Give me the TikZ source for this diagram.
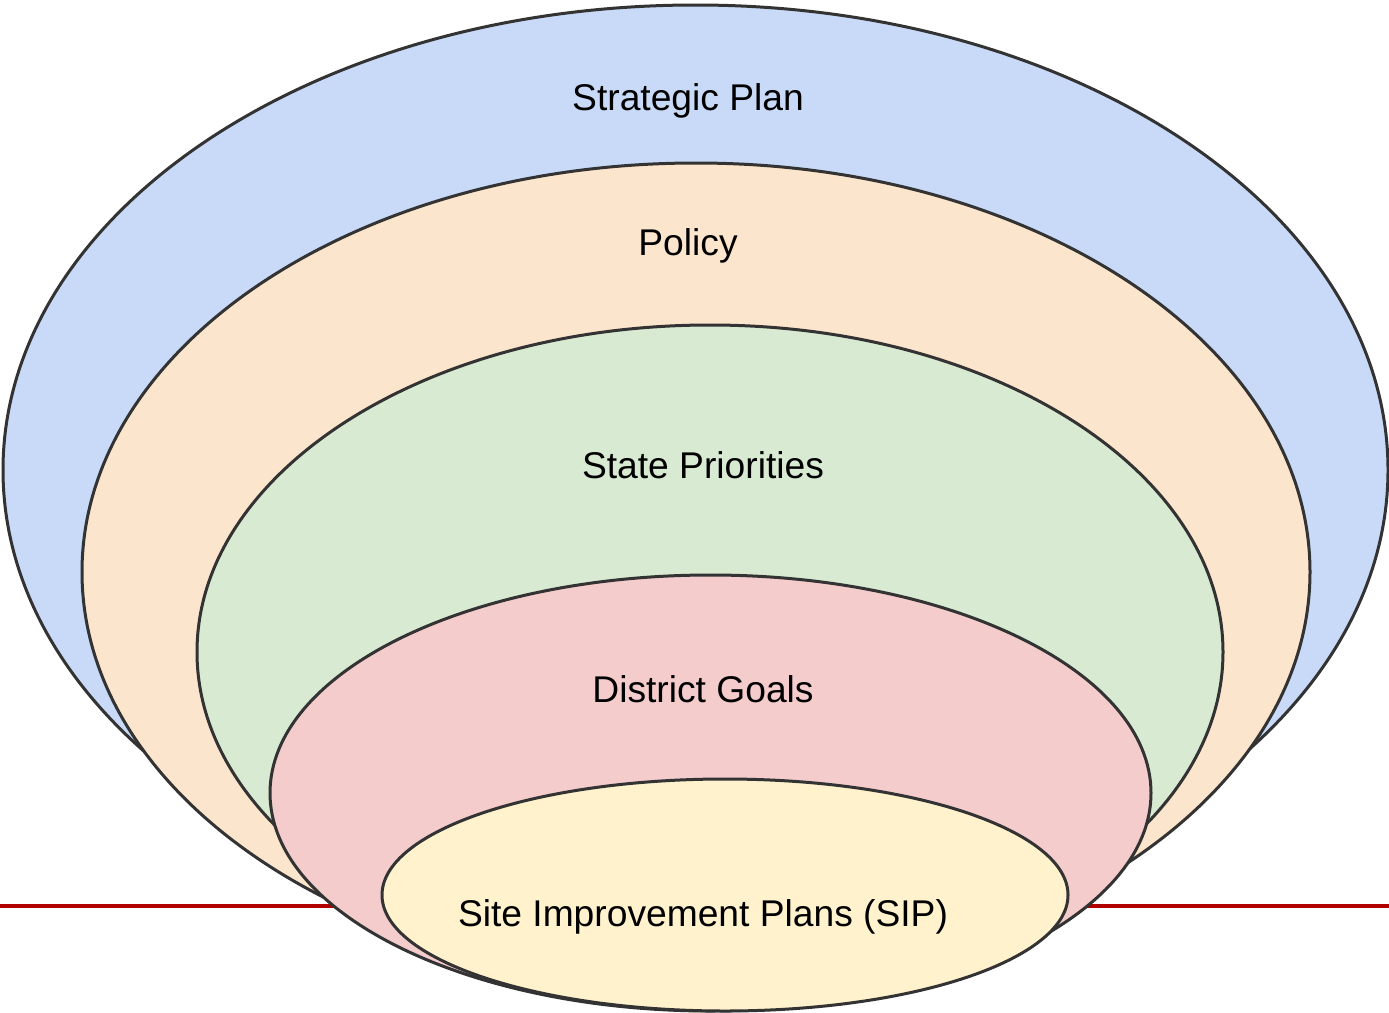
\documentclass[tikz,border=0pt]{standalone}
\usepackage{fontspec}
\setmainfont{Liberation Sans}
\definecolor{cblue}{HTML}{C9DAF8}
\definecolor{cpeach}{HTML}{FCE5CD}
\definecolor{cgreen}{HTML}{D9EAD3}
\definecolor{cpink}{HTML}{F4CCCC}
\definecolor{cyellow}{HTML}{FFF2CC}
\definecolor{cstroke}{HTML}{333333}
\definecolor{cred}{HTML}{B00000}
\begin{document}
\begin{tikzpicture}[x=1pt,y=-1pt,
  layer/.style={draw=cstroke,line width=3pt},
  lbl/.style={anchor=base,inner sep=0pt,font=\fontsize{37.2}{44}\selectfont,text=black}]
\useasboundingbox (0,0) rectangle (1389,1012);
\coordinate (la) at (0,906);
\coordinate (lb) at (1389,906);
\draw[cred,line width=4pt] (la) -- (lb);
\draw[layer,fill=cblue]   (695.5,470) ellipse [x radius=692.5,y radius=465];
\draw[layer,fill=cpeach]  (696,572) ellipse [x radius=614,y radius=409];
\draw[layer,fill=cgreen]  (710,652) ellipse [x radius=513,y radius=327];
\draw[layer,fill=cpink]   (710.5,793) ellipse [x radius=440.5,y radius=218];
\draw[layer,fill=cyellow] (725,895) ellipse [x radius=343,y radius=116];
\node[lbl] (strat) at (688,110) {Strategic Plan};
\node[lbl] (pol) at (688,255) {Policy};
\node[lbl] (state) at (703,478) {State Priorities};
\node[lbl] (dist) at (703,702) {District Goals};
\node[lbl] (sip) at (703,926) {Site Improvement Plans (SIP)};
\end{tikzpicture}
\end{document}
